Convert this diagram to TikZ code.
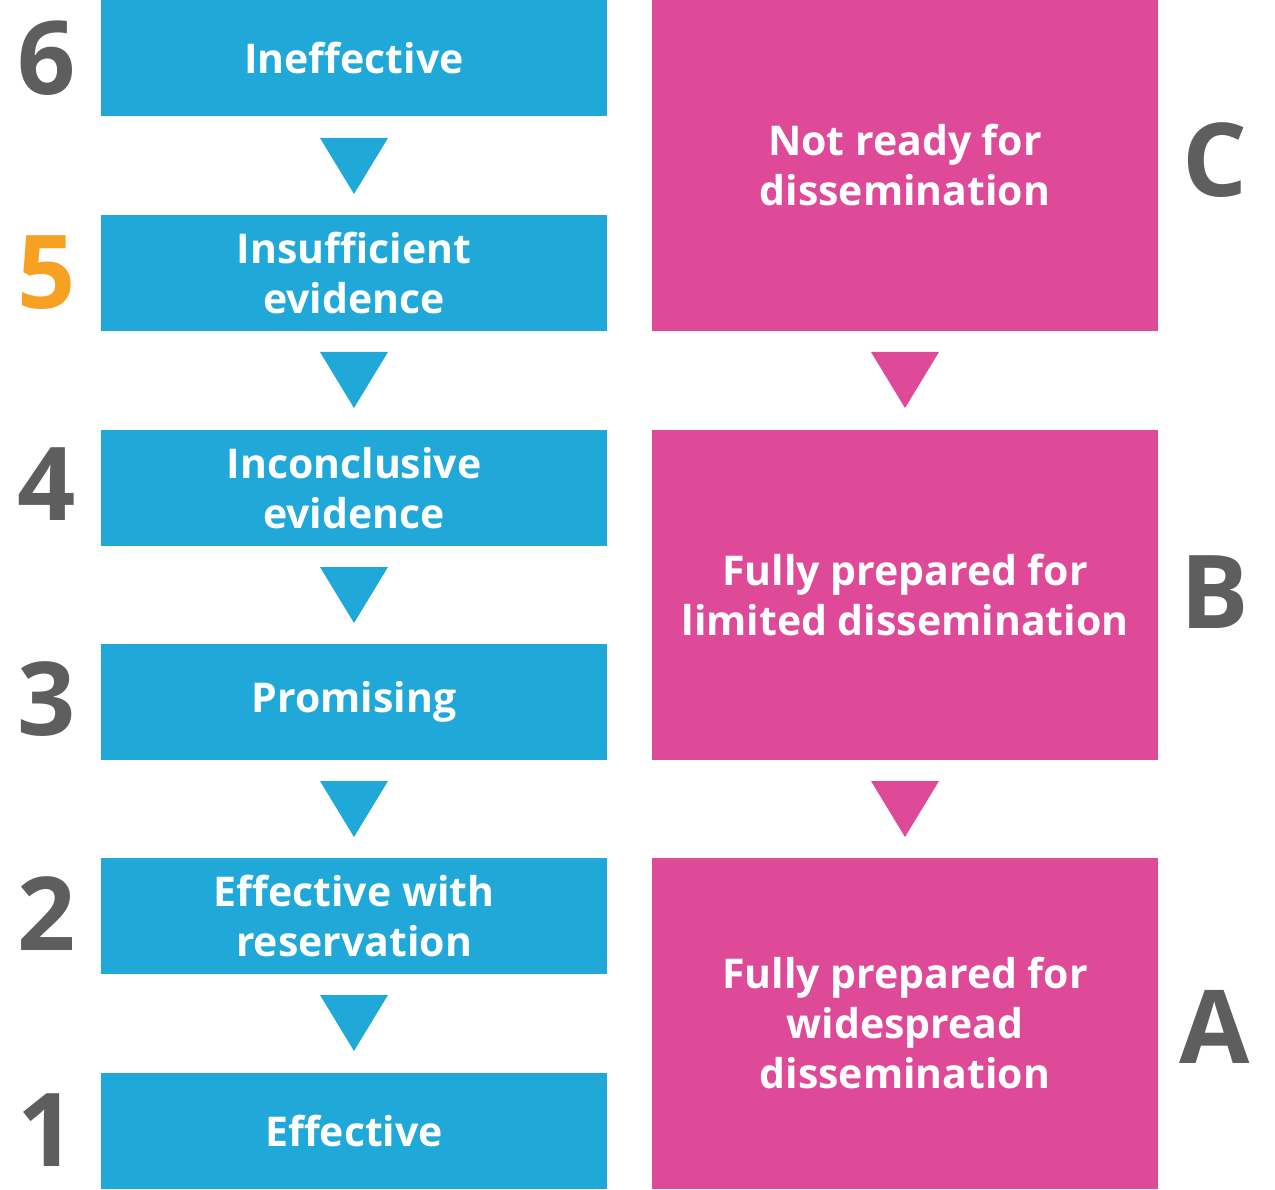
\documentclass[tikz,border=0pt]{standalone}
\usepackage{fontspec}
\setmainfont{Open Sans}
\definecolor{bl}{HTML}{1FA8D8}
\definecolor{pk}{HTML}{DE4A98}
\definecolor{gr}{HTML}{5E5E5E}
\definecolor{or}{HTML}{F7A123}
\tikzset{
 bbox/.style={fill=bl,text=white,minimum width=506pt,minimum height=116pt,inner sep=0pt,align=center,font=\fontsize{41}{50}\selectfont\bfseries},
 pbox/.style={fill=pk,text=white,minimum width=506pt,inner sep=0pt,align=center,font=\fontsize{41}{50}\selectfont\bfseries},
 num/.style={text=gr,font=\fontsize{102}{102}\selectfont\bfseries,inner sep=0pt}
}
\newcommand{\tri}[3]{\fill[#3] (#1-34,#2) -- (#1+34,#2) -- (#1,#2+56) -- cycle;}
\begin{document}
\begin{tikzpicture}[x=1pt,y=-1pt]
\useasboundingbox (0,0) rectangle (1275,1190);
\node[bbox] (b6) at (354,58.5) {Ineffective};
\node[bbox] (b5) at (354,273) {Insufficient\\evidence};
\node[bbox] (b4) at (354,488) {Inconclusive\\evidence};
\node[bbox] (b3) at (354,702) {Promising};
\node[bbox] (b2) at (354,916) {Effective with\\reservation};
\node[bbox] (b1) at (354,1131) {Effective};
\node[pbox,minimum height=331pt] (pc) at (905,165.5) {Not ready for\\dissemination};
\node[pbox,minimum height=330pt] (pb) at (905,595) {Fully prepared for\\limited dissemination};
\node[pbox,minimum height=331pt] (pa) at (905,1023.5) {Fully prepared for\\widespread\\dissemination};
\tri{354}{138}{bl}\tri{354}{352}{bl}\tri{354}{567}{bl}\tri{354}{781}{bl}\tri{354}{995}{bl}
\tri{905}{352}{pk}\tri{905}{781}{pk}
\node[num] (n6) at (47,58) {6};
\node[num,text=or] (n5) at (47,273) {5};
\node[num] (n4) at (47,484) {4};
\node[num] (n3) at (47,699) {3};
\node[num] (n2) at (47,914) {2};
\node[num] (n1) at (47,1130) {1};
\node[num] (lc) at (1215,160) {C};
\node[num] (lb) at (1215,592) {B};
\node[num] (la) at (1215,1027) {A};
\end{tikzpicture}
\end{document}
